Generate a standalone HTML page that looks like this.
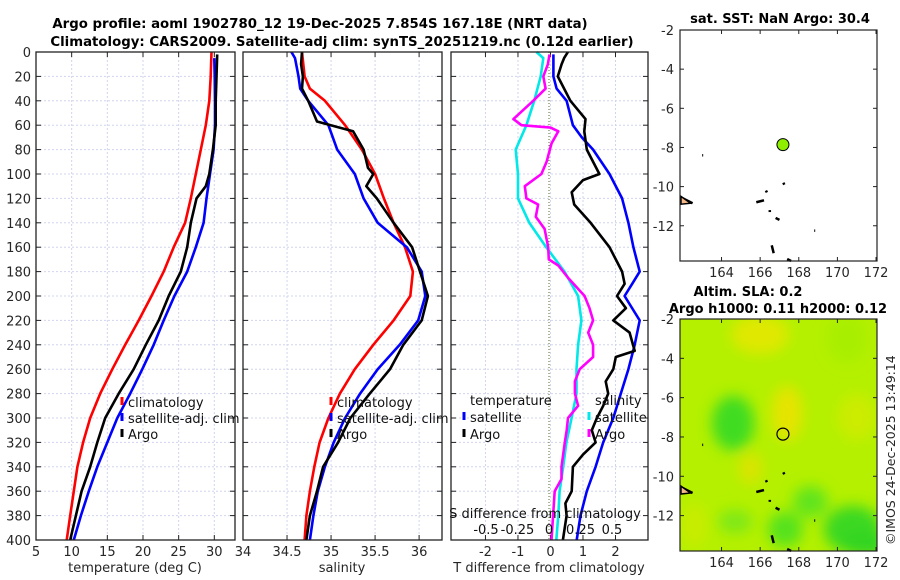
<!DOCTYPE html>
<html><head><meta charset="utf-8"><style>
body{margin:0;background:#fff;}
svg{display:block;font-family:"DejaVu Sans","Liberation Sans",sans-serif;}
</style></head><body>
<svg id="fig" width="900" height="580" viewBox="0 0 900 580" xmlns="http://www.w3.org/2000/svg">
<defs>
<filter id="blur" x="-50%" y="-50%" width="200%" height="200%"><feGaussianBlur stdDeviation="7"/></filter>
<clipPath id="mapclip"><rect x="680" y="319" width="197" height="232"/></clipPath>
</defs>
<text x="320" y="28" text-anchor="middle" font-size="13.3" font-weight="bold" fill="#000">Argo profile: aoml 1902780_12 19-Dec-2025 7.854S 167.18E (NRT data)</text>
<text x="342" y="46" text-anchor="middle" font-size="13.3" font-weight="bold" fill="#000">Climatology: CARS2009. Satellite-adj clim: synTS_20251219.nc (0.12d earlier)</text>
<g id="g1"></g><g id="g2"></g><g id="g3"></g><g id="gm"></g>
<text transform="translate(895,545) rotate(-90)" font-size="12.5" fill="#262626">©IMOS 24-Dec-2025 13:49:14</text>
</svg>
<script>
// ---- data ----
const depthTicks=[0,20,40,60,80,100,120,140,160,180,200,220,240,260,280,300,320,340,360,380,400];
const tempTicks=[5,10,15,20,25,30];
const salTicks=[34,34.5,35,35.5,36];
const dTTicks=[-2,-1,0,1,2];
const dSTicks=[-0.5,-0.25,0,0.25,0.5];
const lonTicks=[164,166,168,170,172];
const latTicks=[-2,-4,-6,-8,-10,-12];
const climTdepth=[0,20,40,60,80,100,120,140,160,180,200,220,240,260,280,300,320,340,360,380,400];
const climT=[29.6,29.5,29.3,28.8,28.1,27.4,26.7,25.9,24.3,22.9,21.2,19.4,17.5,15.7,14.0,12.6,11.6,10.8,10.3,9.8,9.3];
const satTdepth=[5,20,40,60,80,100,120,140,160,180,200,220,240,260,280,300,320,340,360,380,400];
const satT=[30.0,30.05,30.1,30.1,29.9,29.4,28.9,28.5,27.4,26.2,24.4,22.9,21.5,19.9,18.2,16.4,15.0,13.6,12.4,11.3,10.3];
const argoTdepth=[2,20,40,60,80,100,110,120,140,160,180,200,220,240,260,280,300,320,340,360,380,400];
const argoT=[30.4,30.3,30.2,30.2,29.8,29.3,28.8,27.5,26.7,26.2,25.3,23.6,22.2,20.4,18.7,16.6,14.7,13.6,12.6,11.4,10.6,9.8];
const climSdepth=[0,20,30,40,60,80,100,120,140,160,180,200,220,240,260,280,300,320,340,360,380,400];
const climS=[34.67,34.7,34.76,34.93,35.16,35.35,35.5,35.6,35.71,35.84,35.93,35.9,35.71,35.48,35.27,35.1,34.97,34.87,34.81,34.76,34.72,34.7];
const satSdepth=[0,5,20,30,40,60,80,100,120,140,160,180,200,220,240,260,280,300,320,340,360,380,400];
const satS=[34.55,34.59,34.63,34.65,34.74,34.97,35.07,35.27,35.37,35.53,35.86,36.03,36.07,35.99,35.78,35.53,35.33,35.16,35.03,34.93,34.85,34.8,34.76];
const argoSdepth=[0,10,20,30,40,50,57,65,80,95,100,110,120,140,160,180,200,220,240,260,280,300,320,340,360,380,400];
const argoS=[34.67,34.66,34.68,34.67,34.74,34.8,34.84,35.25,35.37,35.42,35.48,35.4,35.52,35.71,35.92,36.01,36.1,36.03,35.82,35.67,35.44,35.22,35.08,34.91,34.84,34.76,34.72];
const satdTdepth=[0,5,20,40,60,80,100,120,140,160,180,200,220,240,260,280,300,320,340,360,380,400];
const satdT=[-0.43,-0.22,-0.3,-0.5,-0.74,-1.07,-1.0,-1.0,-0.65,-0.13,0.43,0.85,0.95,0.85,0.8,0.8,0.65,0.49,0.39,0.28,0.24,0.18];
const argodTdepth=[2,10,20,30,40,55,60,62,65,75,90,100,110,120,125,135,145,160,170,175,185,200,210,220,230,240,250,260,270,280,290,300,310,320,340,350,360,380,400];
const argodT=[-0.03,-0.08,-0.22,-0.15,-0.53,-1.14,-0.89,0.0,0.24,0.03,-0.12,-0.28,-0.79,-0.74,-0.38,-0.45,-0.18,-0.07,-0.05,0.24,0.54,1.05,1.2,1.31,1.16,1.31,1.31,0.9,0.75,0.75,0.85,0.54,0.5,0.44,0.34,0.34,0.13,0.08,0.03];
const satdSdepth=[2,20,30,40,60,70,80,100,120,140,160,180,190,200,220,240,260,280,300,320,340,360,380,400];
const satdS=[0.035,0.035,0.06,0.14,0.19,0.26,0.35,0.48,0.58,0.63,0.67,0.72,0.66,0.6,0.72,0.68,0.63,0.57,0.51,0.43,0.37,0.3,0.25,0.22];
const argodSdepth=[0,5,10,20,40,55,65,80,100,105,115,125,140,160,180,190,200,210,220,230,245,250,260,270,280,290,300,310,320,330,340,360,370,380,400];
const argodS=[0.15,0.12,0.1,0.07,0.17,0.29,0.28,0.3,0.4,0.27,0.18,0.2,0.33,0.48,0.58,0.6,0.54,0.61,0.51,0.64,0.68,0.53,0.51,0.45,0.47,0.43,0.38,0.34,0.37,0.27,0.19,0.18,0.13,0.14,0.11];
const argoLon=[167.18];
const argoLat=[-7.854];
// ---- helpers ----
const NS='http://www.w3.org/2000/svg';
function mk(parent,tag,attrs,txt){const e=document.createElementNS(NS,tag);for(const k in attrs)e.setAttribute(k,attrs[k]);if(txt!==undefined)e.textContent=txt;parent.appendChild(e);return e;}
const top0=52,bot0=540;
const yD=d=>top0+d*(bot0-top0)/400;
function panel(g,x0,x1,xmin,xmax,ticks,fmt,name,showY){
  const xs=v=>x0+(v-xmin)*(x1-x0)/(xmax-xmin);
  depthTicks.forEach(d=>{if(d>0&&d<400){const l=mk(g,'line',{x1:x0,x2:x1,y1:yD(d),y2:yD(d),stroke:'#d0d4ee','stroke-width':1,'stroke-dasharray':'2,2'});
    
    }
    mk(g,'line',{x1:x0,x2:x0+5,y1:yD(d),y2:yD(d),stroke:'#222'});mk(g,'line',{x1:x1-5,x2:x1,y1:yD(d),y2:yD(d),stroke:'#222'});
    if(showY){const t=mk(g,'text',{x:x0-5,y:yD(d)+5,'text-anchor':'end','font-size':13,fill:'#262626'},d);
      
      }});
  ticks.forEach(v=>{const x=xs(v);
    if(x>x0+1&&x<x1-1){const l=mk(g,'line',{x1:x,x2:x,y1:top0,y2:bot0,stroke:'#d0d4ee','stroke-width':1,'stroke-dasharray':'2,2'});
      
      }
    mk(g,'line',{x1:x,x2:x,y1:bot0,y2:bot0-5,stroke:'#222'});mk(g,'line',{x1:x,x2:x,y1:top0,y2:top0+5,stroke:'#222'});
    const t=mk(g,'text',{x:x,y:556,'text-anchor':'middle','font-size':13,fill:'#262626'},fmt(v));
    
    });
  return xs;
}
function frame(g,x0,x1,name){const r=mk(g,'rect',{x:x0,y:top0,width:x1-x0,height:bot0-top0,fill:'none',stroke:'#222','stroke-width':1.3});
  
  }
function line(g,xs,vals,depths,color,name){const p=vals.map((v,i)=>(i?'L':'M')+xs(v).toFixed(1)+','+yD(depths[i]).toFixed(1)).join(' ');
  const e=mk(g,'path',{d:p,fill:'none',stroke:color,'stroke-width':2.6,'stroke-linejoin':'round'});
  
  }
function legend(g,x,y,color,label,name){mk(g,'line',{x1:x,x2:x,y1:y-10,y2:y-2,stroke:color,'stroke-width':3});
  const t=mk(g,'text',{x:x+6,y:y,'font-size':13,fill:'#111'},label);
  
  }
// panel 1
const g1=document.getElementById('g1');
const xT=panel(g1,36,235,5,32.9,tempTicks,v=>v,'temperature',true);
line(g1,xT,climT,climTdepth,'#ff0000','climatology-temp-line');
line(g1,xT,satT,satTdepth,'#0000ff','satellite-temp-line');
line(g1,xT,argoT,argoTdepth,'#000','argo-temp-line');
legend(g1,122,407,'#ff0000','climatology','legend-climatology');
legend(g1,122,423,'#0000ff','satellite-adj. clim','legend-satellite');
legend(g1,122,439,'#000','Argo','legend-argo');
frame(g1,36,235,'temperature-panel');
mk(g1,'text',{x:135,y:572,'text-anchor':'middle','font-size':13,fill:'#262626',},'temperature (deg C)');
// panel 2
const g2=document.getElementById('g2');
const xS=panel(g2,243,442,34,36.26,salTicks,v=>v,'salinity',false);
line(g2,xS,climS,climSdepth,'#ff0000','climatology-sal-line');
line(g2,xS,satS,satSdepth,'#0000ff','satellite-sal-line');
line(g2,xS,argoS,argoSdepth,'#000','argo-sal-line');
legend(g2,331,407,'#ff0000','climatology','legend-climatology-sal');
legend(g2,331,423,'#0000ff','satellite-adj. clim','legend-satellite-sal');
legend(g2,331,439,'#000','Argo','legend-argo-sal');
frame(g2,243,442,'salinity-panel');
mk(g2,'text',{x:342,y:572,'text-anchor':'middle','font-size':13,fill:'#262626',},'salinity');
// panel 3
const g3=document.getElementById('g3');
const xdT=panel(g3,451,648,-3.06,3.0,dTTicks,v=>v,'t-diff',false);
const xdS=v=>549+v*126;
mk(g3,'line',{x1:549,x2:549,y1:top0,y2:bot0,stroke:'#556b2f','stroke-width':1,'stroke-dasharray':'1,2',});
line(g3,xdT,satdT,satdTdepth,'#00e8e8','satellite-t-diff-line');
line(g3,xdT,argodT,argodTdepth,'#ff00ff','argo-t-diff-line');
line(g3,xdS,satdS,satdSdepth,'#0000ff','satellite-s-diff-line');
line(g3,xdS,argodS,argodSdepth,'#000','argo-s-diff-line');
mk(g3,'text',{x:470,y:405,'font-size':13,fill:'#111',},'temperature');
mk(g3,'text',{x:595,y:405,'font-size':13,fill:'#111',},'salinity');
legend(g3,464,422,'#0000ff','satellite','legend-t-satellite');
legend(g3,464,439,'#000','Argo','legend-t-argo');
legend(g3,589,422,'#00e8e8','satellite','legend-s-satellite');
legend(g3,589,439,'#ff00ff','Argo','legend-s-argo');
dSTicks.forEach(v=>{const t=mk(g3,'text',{x:xdS(v),y:534,'text-anchor':'middle','font-size':13,fill:'#111'},v);
  
  });
mk(g3,'text',{x:545,y:518,'text-anchor':'middle','font-size':13,fill:'#111',},'S difference from climatology');
frame(g3,451,648,'difference-panel');
mk(g3,'text',{x:549,y:572,'text-anchor':'middle','font-size':13,fill:'#262626',},'T difference from climatology');
// maps
const gm=document.getElementById('gm');
function map(y0,y1,name,bg){
  const x0=680,x1=877;
  const xs=l=>x0+(l-161.85)*(x1-x0)/(172.05-161.85);
  const ys=la=>y0+(-2-la)*(y1-y0)/(11.8);
  const g=mk(gm,'g',{});
  bg(g,xs,ys);
  const coast=[[162.0,-10.6,162.5,-10.85],[165.8,-10.8,166.2,-10.7],[166.5,-11.2,166.5,-11.3],[166.8,-11.6,167.0,-11.7],[166.6,-13.0,166.7,-13.4],[167.4,-13.7,167.6,-13.8],[167.2,-9.8,167.25,-9.9],[163.0,-8.4,163.05,-8.4],[168.8,-12.25,168.85,-12.25],[166.3,-10.2,166.35,-10.3]];
  coast.forEach(c=>mk(g,'line',{x1:xs(c[0]),y1:ys(c[1]),x2:xs(c[2]),y2:ys(c[3]),stroke:'#000','stroke-width':2.5}));
  mk(g,'polygon',{points:`${xs(161.9)},${ys(-10.5)} ${xs(162.4)},${ys(-10.85)} ${xs(161.9)},${ys(-10.9)}`,fill:'#f4b98a',stroke:'#000','stroke-width':1.5});
  latTicks.forEach(la=>{const y=ys(la);mk(g,'line',{x1:x0,x2:x0+4,y1:y,y2:y,stroke:'#222'});mk(g,'line',{x1:x1-4,x2:x1,y1:y,y2:y,stroke:'#222'});
    const t=mk(g,'text',{x:x0-6,y:y+5,'text-anchor':'end','font-size':13,fill:'#262626'},la);
    
    });
  lonTicks.forEach(lo=>{const x=xs(lo);mk(g,'line',{x1:x,x2:x,y1:y1,y2:y1-4,stroke:'#222'});mk(g,'line',{x1:x,x2:x,y1:y0,y2:y0+4,stroke:'#222'});
    const t=mk(g,'text',{x:x,y:y1+16,'text-anchor':'middle','font-size':13,fill:'#262626'},lo);
    
    });
  mk(g,'rect',{x:x0,y:y0,width:x1-x0,height:y1-y0,fill:'none',stroke:'#222','stroke-width':1.2});
  return {xs,ys,g};
}
const m1=map(30,261,'sst-map',(g,xs,ys)=>{mk(g,'rect',{x:680,y:30,width:197,height:231,fill:'#fff'});});
const c1=mk(m1.g,'circle',{cx:m1.xs(argoLon[0]),cy:m1.ys(argoLat[0]),r:6,fill:'#8ef000',stroke:'#000','stroke-width':1});


mk(gm,'text',{x:780,y:23,'text-anchor':'middle','font-size':13,'font-weight':'bold',fill:'#000',},'sat. SST: NaN Argo: 30.4');
const m2=map(319,551,'sla-map',(g,xs,ys)=>{
  const cg=mk(g,'g',{'clip-path':'url(#mapclip)'});
  mk(cg,'rect',{x:680,y:319,width:197,height:232,fill:'#b4f000'});
  const fg=mk(cg,'g',{filter:'url(#blur)'});
  [[164.6,-7.3,1.1,1.4,'#3fdc20'],[164.7,-12.3,0.9,0.6,'#7ee818'],[167.3,-12.7,0.9,0.9,'#55e21a'],[168.6,-11.3,0.9,0.8,'#60e41a'],[170.8,-12.7,1.5,1.2,'#3ad820'],[171.5,-13.5,1.3,0.6,'#30d420'],[167.4,-6.8,0.8,1.4,'#e6e400'],[165.5,-9.6,0.6,0.8,'#dce400'],[166.0,-2.8,1.5,1.0,'#e0e800'],[171.0,-7.0,1.0,1.2,'#ccec00'],[162.6,-12.5,0.7,1.2,'#c8ec00'],[170.5,-3.0,1.0,1.2,'#a8ee00']].forEach(b=>
    mk(fg,'ellipse',{cx:xs(b[0]),cy:ys(b[1]),rx:b[2]*19.3,ry:b[3]*19.6,fill:b[4]}));
});
const c2=mk(m2.g,'circle',{cx:m2.xs(argoLon[0]),cy:m2.ys(argoLat[0]),r:6,fill:'none',stroke:'#000','stroke-width':1.2});


mk(gm,'text',{x:748,y:296,'text-anchor':'middle','font-size':13,'font-weight':'bold',fill:'#000',},'Altim. SLA: 0.2');
mk(gm,'text',{x:778,y:313,'text-anchor':'middle','font-size':13,'font-weight':'bold',fill:'#000',},'Argo h1000: 0.11 h2000: 0.12');
</script>
</body></html>
